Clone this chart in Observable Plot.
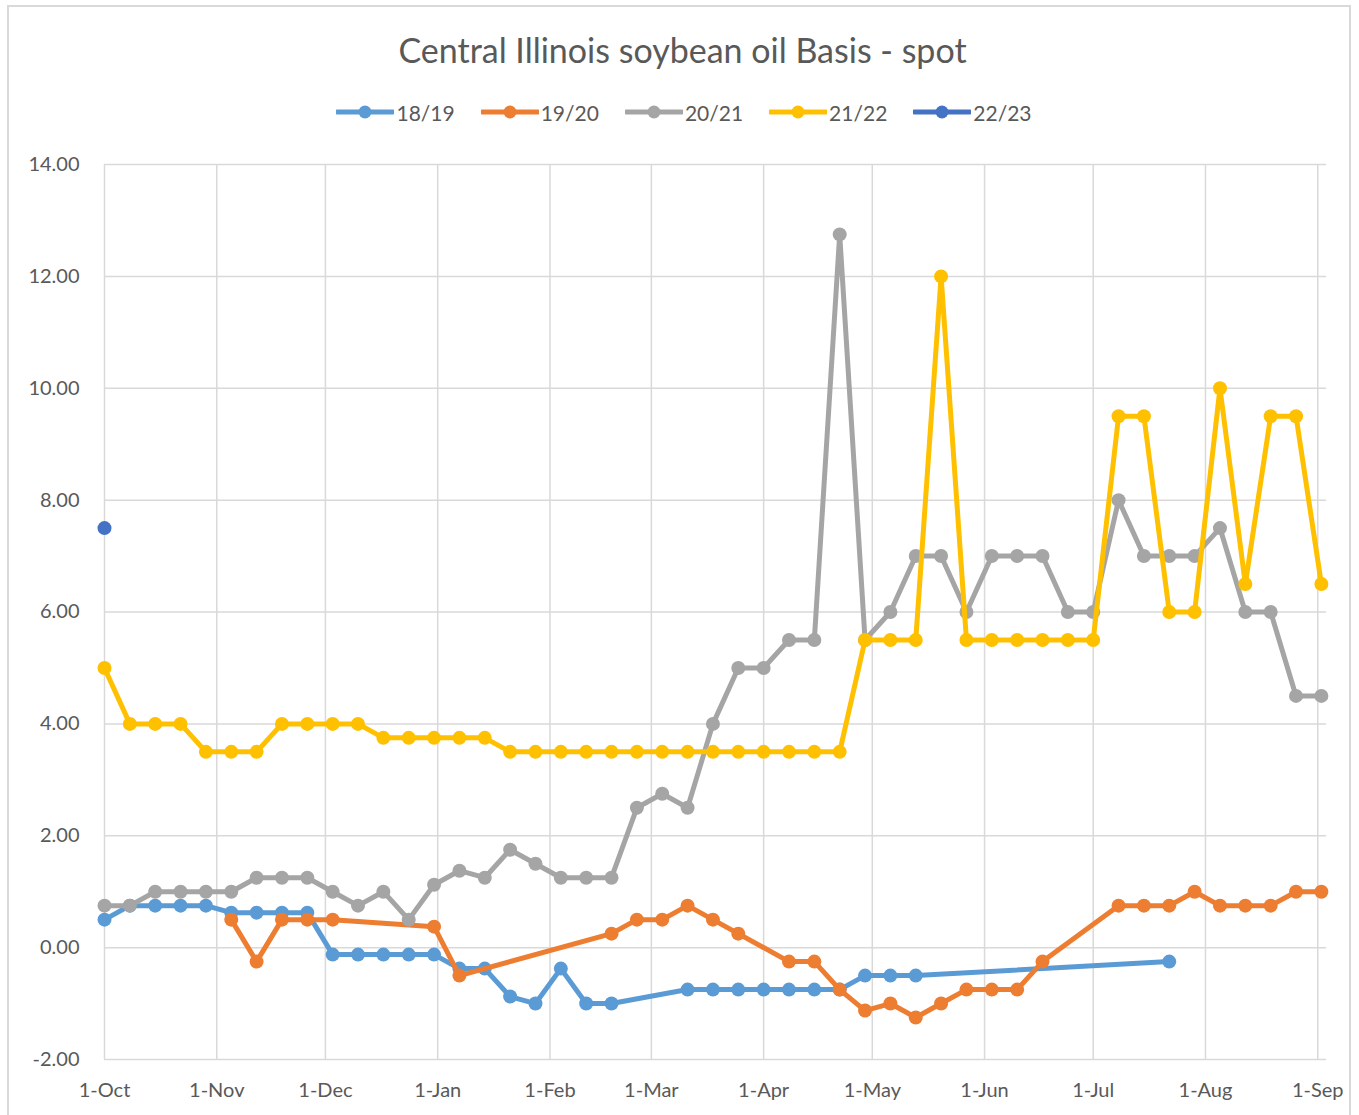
<!DOCTYPE html>
<html>
<head>
<meta charset="utf-8">
<script src="https://cdn.jsdelivr.net/npm/d3@7"></script>
<script src="https://cdn.jsdelivr.net/npm/@observablehq/plot@0.6"></script>
<style>
  html, body { margin: 0; padding: 0; background: #fff; }
  #wrap { position: relative; width: 1359px; height: 1115px; overflow: hidden; font-family: Lato, "Open Sans", sans-serif; color: #595959; }
  #frame { position: absolute; left: 7px; top: 5px; width: 1344px; height: 1130px; border: 2px solid #d9d9d9; box-sizing: border-box; }
  #title { position: absolute; left: 0; width: 1365px; top: 27px; height: 46px; line-height: 46px; text-align: center; font-size: 34px; }
  #legend { position: absolute; left: 0; width: 1368px; top: 97px; height: 30px; display: flex; justify-content: center; align-items: center; font-size: 21px; }
  .item { display: flex; align-items: center; margin: 0 13px; }
  .item span { margin-left: 2px; }
  #chart { position: absolute; left: 0; top: 140px; }
</style>
</head>
<body>
<div id="wrap">
  <div id="frame"></div>
  <div id="title"></div>
  <div id="legend"></div>
  <div id="chart"></div>
</div>
<script>
// ---------- data ----------
const chartTitle = "Central Illinois soybean oil Basis - spot";
const seriesNames = ["18/19", "19/20", "20/21", "21/22", "22/23"];
const seriesColors = ["#5B9BD5", "#ED7D31", "#A5A5A5", "#FFC000", "#4472C4"];

const weekDates = [
  "2018-10-01","2018-10-08","2018-10-15","2018-10-22","2018-10-29",
  "2018-11-05","2018-11-12","2018-11-19","2018-11-26",
  "2018-12-03","2018-12-10","2018-12-17","2018-12-24","2018-12-31",
  "2019-01-07","2019-01-14","2019-01-21","2019-01-28",
  "2019-02-04","2019-02-11","2019-02-18","2019-02-25",
  "2019-03-04","2019-03-11","2019-03-18","2019-03-25",
  "2019-04-01","2019-04-08","2019-04-15","2019-04-22","2019-04-29",
  "2019-05-06","2019-05-13","2019-05-20","2019-05-27",
  "2019-06-03","2019-06-10","2019-06-17","2019-06-24",
  "2019-07-01","2019-07-08","2019-07-15","2019-07-22","2019-07-29",
  "2019-08-05","2019-08-12","2019-08-19","2019-08-26",
  "2019-09-02"
];

const s1819 = [0.5, 0.75, 0.75, 0.75, 0.75, 0.625, 0.625, 0.625, 0.625, -0.125,
  -0.125, -0.125, -0.125, -0.125, -0.375, -0.375, -0.875, -1.0, -0.375, -1.0,
  -1.0, null, null, -0.75, -0.75, -0.75, -0.75, -0.75, -0.75, -0.75,
  -0.5, -0.5, -0.5, null, null, null, null, null, null, null,
  null, null, -0.25, null, null, null, null, null, null];

const s1920 = [null, null, null, null, null, 0.5, -0.25, 0.5, 0.5, 0.5,
  null, null, null, 0.375, -0.5, null, null, null, null, null,
  0.25, 0.5, 0.5, 0.75, 0.5, 0.25, null, -0.25, -0.25, -0.75,
  -1.125, -1.0, -1.25, -1.0, -0.75, -0.75, -0.75, -0.25, null, null,
  0.75, 0.75, 0.75, 1.0, 0.75, 0.75, 0.75, 1.0, 1.0];

const s2021 = [0.75, 0.75, 1.0, 1.0, 1.0, 1.0, 1.25, 1.25, 1.25, 1.0,
  0.75, 1.0, 0.5, 1.125, 1.375, 1.25, 1.75, 1.5, 1.25, 1.25,
  1.25, 2.5, 2.75, 2.5, 4.0, 5.0, 5.0, 5.5, 5.5, 12.75,
  5.5, 6.0, 7.0, 7.0, 6.0, 7.0, 7.0, 7.0, 6.0, 6.0,
  8.0, 7.0, 7.0, 7.0, 7.5, 6.0, 6.0, 4.5, 4.5];

const s2122 = [5.0, 4.0, 4.0, 4.0, 3.5, 3.5, 3.5, 4.0, 4.0, 4.0,
  4.0, 3.75, 3.75, 3.75, 3.75, 3.75, 3.5, 3.5, 3.5, 3.5,
  3.5, 3.5, 3.5, 3.5, 3.5, 3.5, 3.5, 3.5, 3.5, 3.5,
  5.5, 5.5, 5.5, 12.0, 5.5, 5.5, 5.5, 5.5, 5.5, 5.5,
  9.5, 9.5, 6.0, 6.0, 10.0, 6.5, 9.5, 9.5, 6.5];

const s2223 = [7.5, null, null, null, null, null, null, null, null, null,
  null, null, null, null, null, null, null, null, null, null,
  null, null, null, null, null, null, null, null, null, null,
  null, null, null, null, null, null, null, null, null, null,
  null, null, null, null, null, null, null, null, null];

const monthTicks = ["2018-10-01","2018-11-01","2018-12-01","2019-01-01","2019-02-01","2019-03-01",
  "2019-04-01","2019-05-01","2019-06-01","2019-07-01","2019-08-01","2019-09-01"];
const monthLabels = ["1-Oct","1-Nov","1-Dec","1-Jan","1-Feb","1-Mar","1-Apr","1-May","1-Jun","1-Jul","1-Aug","1-Sep"];
const yTicks = [-2, 0, 2, 4, 6, 8, 10, 12, 14];
const yTickLabels = ["-2.00","0.00","2.00","4.00","6.00","8.00","10.00","12.00","14.00"];

// ---------- build ----------
const allSeries = [s1819, s1920, s2021, s2122, s2223];
const tickDates = monthTicks.map(d => new Date(d));
const labelOf = new Map(tickDates.map((d, i) => [+d, monthLabels[i]]));
const yLabelOf = new Map(yTicks.map((v, i) => [v, yTickLabels[i]]));

document.getElementById("title").textContent = chartTitle;

const legend = document.getElementById("legend");
seriesNames.forEach((name, i) => {
  const item = document.createElement("div");
  item.className = "item";
  item.innerHTML = `<svg width="58" height="16"><line x1="1" y1="8" x2="57" y2="8" stroke="${seriesColors[i]}" stroke-width="5" stroke-linecap="round"/><circle cx="29" cy="8" r="6.5" fill="${seriesColors[i]}"/></svg><span>${name}</span>`;
  legend.appendChild(item);
});

const marks = [
  Plot.gridY(yTicks, {stroke: "#d9d9d9", strokeOpacity: 1, strokeWidth: 1.5}),
  Plot.gridX(tickDates, {stroke: "#d9d9d9", strokeOpacity: 1, strokeWidth: 1.5}),
  Plot.axisY(yTicks, {tickSize: 0, tickPadding: 25, tickFormat: v => yLabelOf.get(v), fontSize: 20, label: null}),
  Plot.axisX(tickDates, {tickSize: 0, tickPadding: 23, tickFormat: d => labelOf.get(+d), fontSize: 20, label: null})
];

allSeries.forEach((vals, si) => {
  const rows = weekDates.map((d, i) => ({date: new Date(d), value: vals[i]})).filter(r => r.value != null);
  marks.push(Plot.line(rows, {x: "date", y: "value", stroke: seriesColors[si], strokeWidth: 5, strokeLinejoin: "round", strokeLinecap: "round"}));
  marks.push(Plot.dot(rows, {x: "date", y: "value", fill: seriesColors[si], r: 7}));
});

const plot = Plot.plot({
  width: 1359,
  height: 975,
  marginTop: 24,
  marginBottom: 56,
  marginLeft: 104,
  marginRight: 33,
  style: {fontFamily: "Lato, 'Open Sans', sans-serif", fontSize: "20px", color: "#595959", background: "transparent", overflow: "visible"},
  x: {type: "utc", domain: [new Date("2018-10-01"), new Date("2019-09-03T10:00Z")], label: null},
  y: {domain: [-2, 14], label: null},
  marks
});
document.getElementById("chart").appendChild(plot);
</script>
</body>
</html>
